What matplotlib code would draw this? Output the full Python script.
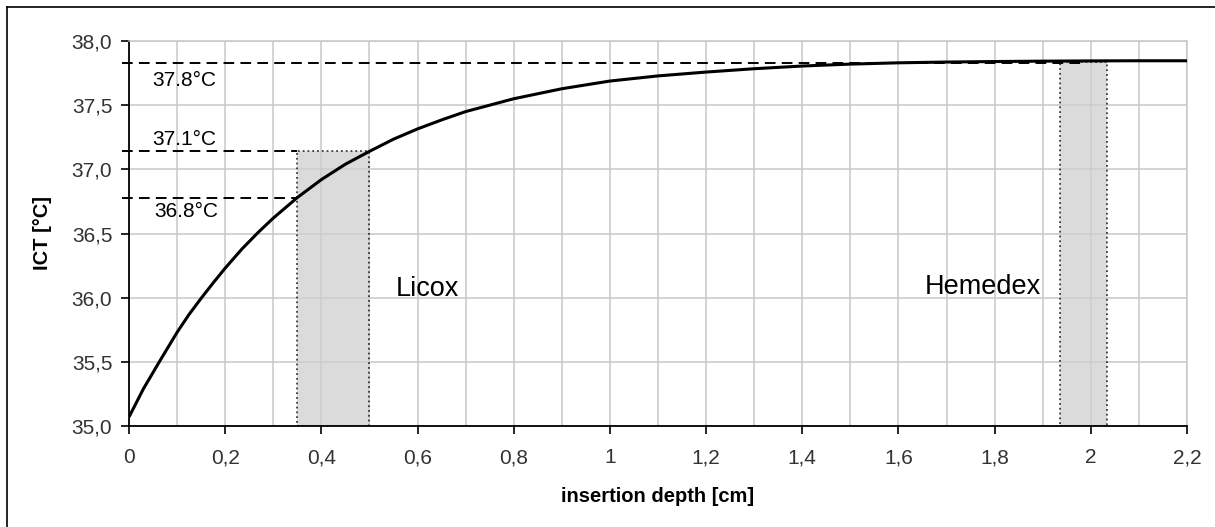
import matplotlib
matplotlib.use("Agg")
import matplotlib.pyplot as plt
from matplotlib.lines import Line2D
from matplotlib.ticker import MultipleLocator

plt.rcParams['font.family'] = ['Liberation Sans', 'DejaVu Sans']

# ---- data ----
depth = [0, 0.03, 0.063, 0.1, 0.125, 0.151, 0.175, 0.2, 0.235, 0.269, 0.3,
         0.35, 0.4, 0.45, 0.5, 0.55, 0.6, 0.65, 0.7, 0.8, 0.9, 1.0, 1.1,
         1.2, 1.3, 1.4, 1.5, 1.6, 1.7, 1.8, 1.9, 2.0, 2.1, 2.2]
ict = [35.07, 35.29, 35.5, 35.73, 35.87, 36.0, 36.115, 36.23, 36.38, 36.51,
       36.62, 36.78, 36.92, 37.04, 37.14, 37.235, 37.315, 37.385, 37.45,
       37.55, 37.628, 37.688, 37.728, 37.758, 37.784, 37.805, 37.82, 37.83,
       37.836, 37.84, 37.843, 37.845, 37.846, 37.846]

ref_levels = [37.83, 37.14, 36.78]
ref_labels = ["37.8°C", "37.1°C", "36.8°C"]
ref_ends = [1.98, 0.35, 0.35]

licox_range = [0.35, 0.50]
licox_top = 37.14
hemedex_range = [1.935, 2.033]
hemedex_top = 37.835

x_ticks = [0, 0.2, 0.4, 0.6, 0.8, 1.0, 1.2, 1.4, 1.6, 1.8, 2.0, 2.2]
x_ticklabels = ["0", "0,2", "0,4", "0,6", "0,8", "1", "1,2", "1,4", "1,6", "1,8", "2", "2,2"]
y_ticks = [35.0, 35.5, 36.0, 36.5, 37.0, 37.5, 38.0]
y_ticklabels = ["35,0", "35,5", "36,0", "36,5", "37,0", "37,5", "38,0"]

# ---- figure ----
W, H = 1215, 527
fig = plt.figure(figsize=(W / 100, H / 100), dpi=100)
ax = fig.add_axes([129 / W, 1 - 426 / H, (1187 - 129) / W, (426 - 41) / H])

ax.set_xlim(0, 2.2)
ax.set_ylim(35.0, 38.0)

# grid
grid_c = '#c8c8c8'
ax.xaxis.set_minor_locator(MultipleLocator(0.1))
ax.set_xticks(x_ticks)
ax.set_xticklabels(x_ticklabels)
ax.set_yticks(y_ticks)
ax.set_yticklabels(y_ticklabels)
ax.grid(True, which='both', axis='x', color=grid_c, lw=1.1, zorder=0)
ax.grid(True, which='major', axis='y', color=grid_c, lw=1.1, zorder=0)
ax.set_axisbelow(True)

ax.tick_params(axis='both', which='major', direction='out', length=6, width=1.2,
               labelsize=15, labelcolor='#333333', color='black')
ax.tick_params(axis='x', which='minor', length=0)
ax.tick_params(axis='x', pad=10)
ax.tick_params(axis='y', pad=6)

for s in ['left', 'bottom']:
    ax.spines[s].set_color('black')
    ax.spines[s].set_linewidth(1.3)
for s in ['top', 'right']:
    ax.spines[s].set_color(grid_c)
    ax.spines[s].set_linewidth(1.1)

# shaded probe regions
ax.bar(licox_range[0], licox_top - 35.0, bottom=35.0,
       width=licox_range[1] - licox_range[0], align='edge',
       facecolor='#cfcfcf', alpha=0.75, edgecolor='black', linestyle=':',
       linewidth=1.3, zorder=2)
ax.bar(hemedex_range[0], hemedex_top - 35.0, bottom=35.0,
       width=hemedex_range[1] - hemedex_range[0], align='edge',
       facecolor='#cfcfcf', alpha=0.75, edgecolor='black', linestyle=':',
       linewidth=1.3, zorder=2)

# reference dashed lines
for lvl, end in zip(ref_levels, ref_ends):
    ax.plot([-0.015, end], [lvl, lvl], color='black', lw=1.4,
            linestyle=(0, (5.5, 3.2)), clip_on=False, zorder=3)

label_pos = [(0.048, 37.648), (0.048, 37.188), (0.052, 36.625)]
for (lx, ly), txt in zip(label_pos, ref_labels):
    ax.text(lx, ly, txt, fontsize=15, color='black', va='baseline', ha='left')

# curve
ax.plot(depth, ict, color='black', lw=2.2, zorder=4, solid_capstyle='butt')

ax.text(0.555, 36.01, "Licox", fontsize=19.5, va='baseline', ha='left')
ax.text(1.655, 36.03, "Hemedex", fontsize=19.5, va='baseline', ha='left')

ax.set_xlabel("insertion depth [cm]", fontsize=14.5, fontweight='bold', labelpad=14)
ax.set_ylabel("ICT [°C]", fontsize=14.5, fontweight='bold', labelpad=14)

# figure border (top and left visible)
fig.add_artist(Line2D([7 / W, 7 / W], [0, 1 - 7 / H], transform=fig.transFigure,
                      color='black', lw=1.2))
fig.add_artist(Line2D([7 / W, 1], [1 - 7 / H, 1 - 7 / H], transform=fig.transFigure,
                      color='black', lw=1.2))

fig.savefig("out.png", dpi=100)
